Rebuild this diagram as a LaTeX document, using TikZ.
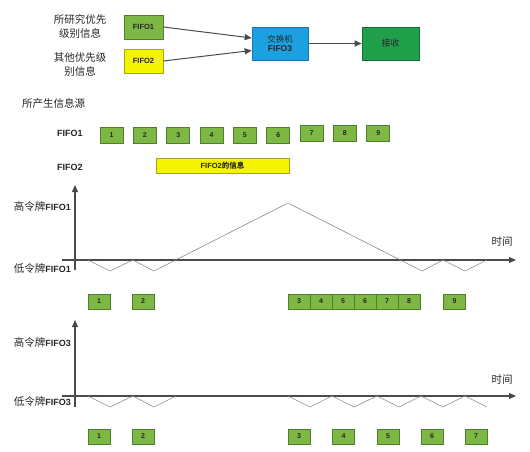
\documentclass[tikz,border=0pt]{standalone}
\usepackage{fontspec}
\setmainfont{Liberation Sans}
\newfontfamily\cjk{Noto Sans CJK SC}
\usepackage{tikz}
\usetikzlibrary{arrows.meta,positioning,calc}
\definecolor{ink}{HTML}{262626}
\definecolor{leaf}{HTML}{7DB845}
\definecolor{leafline}{HTML}{4F7F2C}
\definecolor{lemon}{HTML}{F4F400}
\definecolor{lemonline}{HTML}{A5A520}
\definecolor{sky}{HTML}{1BA1E2}
\definecolor{skyline}{HTML}{1379AE}
\definecolor{forest}{HTML}{21A04C}
\definecolor{forestline}{HTML}{15703A}
\definecolor{axisgray}{HTML}{4A4A4A}
\definecolor{wavegray}{HTML}{8C8C8C}
\tikzset{
  >={Triangle[length=7pt,width=6pt]},
  base/.style={draw, line width=0.6pt, text=ink, align=center, inner sep=1pt,
    font=\bfseries\fontsize{7.5}{8}\selectfont},
  fifobox/.style={base, draw=leafline, fill=leaf, minimum width=39pt, minimum height=24pt},
  yellowbox/.style={base, draw=lemonline, fill=lemon, minimum width=39pt, minimum height=24pt},
  switchbox/.style={base, draw=skyline, fill=sky, minimum width=56pt, minimum height=33pt,
    font=\fontsize{8.5}{10}\selectfont},
  recvbox/.style={base, draw=forestline, fill=forest, minimum width=57pt, minimum height=33pt,
    font=\fontsize{9}{10}\selectfont},
  databox/.style={base, draw=leafline, fill=leaf, minimum width=22pt, minimum height=15pt,
    font=\bfseries\fontsize{7}{8}\selectfont},
  srcbox/.style={databox, minimum width=23pt, minimum height=16pt},
  barbox/.style={base, draw=lemonline, fill=lemon, minimum width=133pt, minimum height=15pt},
  label/.style={text=ink, align=center, inner sep=0pt, font=\fontsize{10.5}{14}\selectfont},
  axislabel/.style={text=ink, inner sep=0pt, font=\fontsize{10.5}{11}\selectfont},
  flow/.style={->, line width=1pt, draw=axisgray},
  axis/.style={->, line width=1.1pt, draw=axisgray},
  wave/.style={line width=0.6pt, draw=wavegray}
}
\newcommand{\zh}[1]{{\cjk #1}}
\newcommand{\fifo}[1]{{\bfseries\fontsize{9}{10}\selectfont #1}}

\begin{document}
\begin{tikzpicture}[x=1pt,y=-1pt]
  \useasboundingbox[fill=white] (0,0) rectangle (530,452);

  % switch overview
  \node[label] (srcA) at (80,26) {\zh{所研究优先}\\\zh{级别信息}};
  \node[label] (srcB) at (80,64.5) {\zh{其他优先级}\\\zh{别信息}};
  \node[fifobox]   (fifoA) at (143.5,27) {FIFO1};
  \node[yellowbox] (fifoB) at (143.5,61) {FIFO2};
  \node[switchbox] (sw)    at (280,43.5) {\zh{交换机}\\[-1pt]\textbf{FIFO3}};
  \node[recvbox]   (recv)  at (390.5,43.5) {\zh{接收}};

  \draw[flow] (fifoA.east) -- ([yshift=5.5pt]sw.west);
  \draw[flow] (fifoB.east) -- ([yshift=-7pt]sw.west);
  \draw[flow] (sw) -- (recv);

  % sources
  \node[label, anchor=west] (gen) at (22,103) {\zh{所产生信息源}};
  \node[axislabel, anchor=west] (rowA) at (57,133) {\fifo{FIFO1}};
  \node[axislabel, anchor=west] (rowB) at (57,167) {\fifo{FIFO2}};
  \foreach \i/\x/\y in {1/111.5/135,2/144.8/135,3/178.2/135,4/211.5/135,5/244.8/135,
                        6/278.2/135,7/311.5/133,8/344.8/133,9/378.2/133}
    \node[srcbox] (src\i) at (\x,\y) {\i};
  \node[barbox] (msgB) at (222.5,165.5) {FIFO2\zh{的信息}};

  % FIFO1 tokens
  \draw[axis] (75,270) -- (75,185);
  \draw[axis] (62,260) -- (516,260);
  \node[axislabel, anchor=east] (hiA) at (71,207) {\zh{高令牌}\fifo{FIFO1}};
  \node[axislabel, anchor=east] (loA) at (71,269) {\zh{低令牌}\fifo{FIFO1}};
  \node[axislabel] (timeA) at (502,242) {\zh{时间}};
  \draw[wave] (88,260) -- (110,271) -- (133,260) -- (154,271) -- (288,203)
    -- (422,271) -- (443,260) -- (465,271) -- (487,260);
  \foreach \i/\x in {1/99,2/143,3/299,4/321,5/343,6/365,7/387,8/409,9/454.5}
    \node[databox] (outA\i) at (\x,301.5) {\i};

  % FIFO3 tokens
  \draw[axis] (75,407) -- (75,320);
  \draw[axis] (62,396) -- (516,396);
  \node[axislabel, anchor=east] (hiB) at (71,343) {\zh{高令牌}\fifo{FIFO3}};
  \node[axislabel, anchor=east] (loB) at (71,402) {\zh{低令牌}\fifo{FIFO3}};
  \node[axislabel] (timeB) at (502,380) {\zh{时间}};
  \draw[wave] (88,396) -- (110,407) -- (133,396) -- (154,407) -- (176,396);
  \draw[wave] (288,396) -- (310,407) -- (332,396) -- (354,407) -- (377,396)
    -- (399,407) -- (421,396) -- (443,407) -- (465,396) -- (487,407);
  \foreach \i/\x in {1/99,2/143,3/299,4/343.5,5/388,6/432,7/476}
    \node[databox] (outB\i) at (\x,436.5) {\i};
\end{tikzpicture}
\end{document}
